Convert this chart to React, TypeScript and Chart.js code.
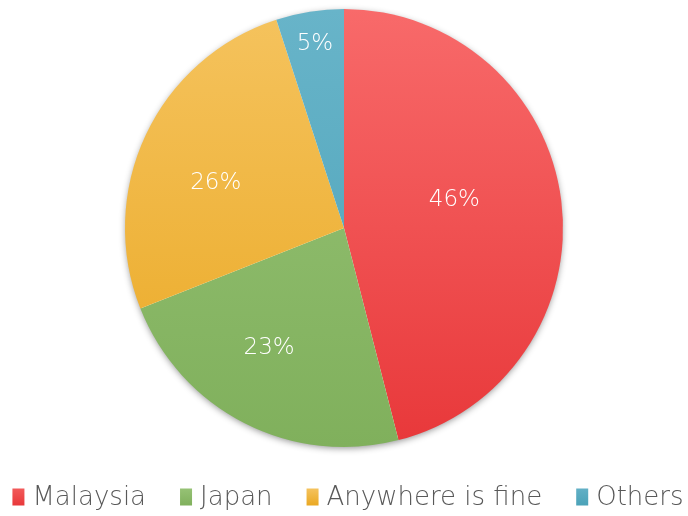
import React, { useEffect, useRef } from "react";
import { Chart, registerables } from "chart.js";

Chart.register(...registerables);

const categories = ["Malaysia", "Japan", "Anywhere is fine", "Others"];
const values = [46, 23, 26, 5];
const topColors = ["#F86A6A", "#97C376", "#F5C35E", "#68B4C9"];
const bottomColors = ["#E8383A", "#80B05C", "#EAA822", "#4BA2B8"];
const legendTop = ["#F25A5A", "#96C275", "#F5C35E", "#62B0C6"];
const legendBottom = ["#E8383A", "#80B05C", "#EAA822", "#4BA2B8"];
const labelRadiusFrac = [0.52, 0.645, 0.62, 0.85];
const labelAngleShiftDeg = [-7, 5, -6, 0];

export default function App() {
  const ref = useRef<HTMLCanvasElement | null>(null);

  useEffect(() => {
    document.body.style.margin = "0";
    const canvas = ref.current!;
    const fill = (c: any) => {
      const i = c.dataIndex ?? 0;
      const chart = c.chart;
      const area = chart.chartArea;
      if (!area) return topColors[i];
      const g = chart.ctx.createLinearGradient(0, area.top, 0, area.bottom);
      g.addColorStop(0, topColors[i]);
      g.addColorStop(1, bottomColors[i]);
      return g;
    };
    const shadowPlugin = {
      id: "pieShadow",
      beforeDatasetsDraw(chart: any) {
        const meta = chart.getDatasetMeta(0);
        const arc = meta.data[0];
        if (!arc) return;
        const ctx = chart.ctx;
        ctx.save();
        ctx.beginPath();
        ctx.arc(arc.x, arc.y, arc.outerRadius - 1, 0, Math.PI * 2);
        ctx.shadowColor = "rgba(0,0,0,0.45)";
        ctx.shadowBlur = 7;
        ctx.shadowOffsetX = 0;
        ctx.shadowOffsetY = 2;
        ctx.fillStyle = "#ffffff";
        ctx.fill();
        ctx.restore();
      },
    };
    const labelPlugin = {
      id: "pctLabels",
      afterDatasetsDraw(chart: any) {
        const meta = chart.getDatasetMeta(0);
        const ctx = chart.ctx;
        const total = values.reduce((a, b) => a + b, 0);
        ctx.save();
        ctx.fillStyle = "#ffffff";
        ctx.font = "200 23px 'DejaVu Sans', sans-serif";
        ctx.textAlign = "center";
        ctx.textBaseline = "middle";
        meta.data.forEach((arc: any, i: number) => {
          const mid = (arc.startAngle + arc.endAngle) / 2 + (labelAngleShiftDeg[i] * Math.PI) / 180;
          const r = arc.outerRadius * labelRadiusFrac[i];
          const x = arc.x + Math.cos(mid) * r;
          const y = arc.y + Math.sin(mid) * r;
          ctx.fillText(Math.round((values[i] / total) * 100) + "%", x, y);
        });
        ctx.restore();
      },
    };
    const legendPlugin = {
      id: "bottomLegend",
      afterDraw(chart: any) {
        const ctx = chart.ctx;
        ctx.save();
        ctx.font = "200 26px 'DejaVu Sans', sans-serif";
        ctx.textBaseline = "middle";
        ctx.textAlign = "left";
        const boxW = 12;
        const boxH = 17;
        const gapText = 8;
        const gapItem = 34;
        const widths = categories.map((c) => boxW + gapText + ctx.measureText(c).width);
        const total = widths.reduce((a, b) => a + b, 0) + gapItem * (categories.length - 1);
        let x = (chart.width - total) / 2 + 4;
        const cy = 497;
        categories.forEach((c, i) => {
          const g = ctx.createLinearGradient(0, cy - boxH / 2, 0, cy + boxH / 2);
          g.addColorStop(0, legendTop[i]);
          g.addColorStop(1, legendBottom[i]);
          ctx.fillStyle = g;
          ctx.fillRect(x, cy - boxH / 2, boxW, boxH);
          ctx.fillStyle = "#595959";
          ctx.fillText(c, x + boxW + gapText, cy + 1);
          x += widths[i] + gapItem;
        });
        ctx.restore();
      },
    };
    const chart = new Chart(canvas, {
      type: "pie",
      data: {
        labels: categories,
        datasets: [
          {
            data: values,
            backgroundColor: fill as any,
            borderWidth: 0,
          },
        ],
      },
      options: {
        animation: false,
        responsive: false,
        rotation: 0,
        layout: { padding: { top: 9, bottom: 69, left: 0, right: 0 } },
        plugins: {
          tooltip: { enabled: false },
          legend: { display: false },
        },
      },
      plugins: [shadowPlugin, labelPlugin, legendPlugin],
    });
    return () => chart.destroy();
  }, []);

  return (
    <div style={{ position: "absolute", left: 0, top: 0, width: 688, height: 516 }}>
      <canvas ref={ref} width={688} height={516} style={{ width: 688, height: 516 }} />
    </div>
  );
}
